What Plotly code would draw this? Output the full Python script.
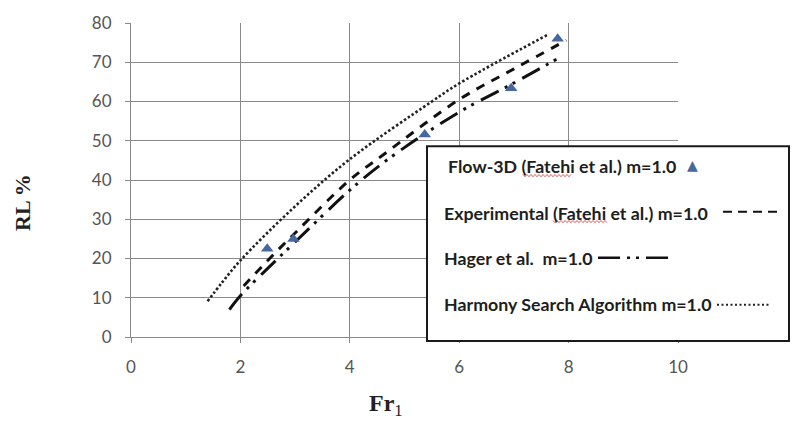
import plotly.graph_objects as go

# ---------------- data ----------------
x_ticks = [0, 2, 4, 6, 8, 10]
y_ticks = [0, 10, 20, 30, 40, 50, 60, 70, 80]

flow3d_x = [2.49, 2.97, 5.37, 6.95, 7.80]
flow3d_y = [22.5, 25.0, 51.6, 63.4, 76.0]

exp_x = [2.06, 2.5, 3.0, 4.0, 4.6, 6.0, 7.0, 7.96]
exp_y = [13.0, 19.5, 26.5, 40.0, 46.3, 60.5, 68.3, 75.6]

hager_x = [1.80, 2.0, 2.5, 3.0, 4.0, 4.67, 6.0, 6.93, 7.81]
hager_y = [7.0, 10.5, 17.5, 24.2, 37.4, 45.0, 57.3, 64.2, 71.0]

hs_x = [1.40, 1.66, 2.0, 2.97, 4.0, 5.5, 6.0, 7.63]
hs_y = [9.1, 13.8, 19.5, 32.9, 45.3, 60.0, 64.6, 77.1]

legend_labels = [
    "Flow-3D (Fatehi et al.) m=1.0",
    "Experimental (Fatehi et al.) m=1.0",
    "Hager et al.\u00a0 m=1.0",
    "Harmony Search Algorithm m=1.0",
]

# ---------------- styles ----------------
W, H = 797, 421
L, R, T, B = 131, 119, 16, 84
PW, PH = W - L - R, H - T - B
TRI_COLOR = "#46689e"
GRID = "#8a8a8a"
TICKFONT = dict(family="Lato", size=17, color="#555555")
LEGFONT = dict(family="Lato", size=17.8, color="#1e1e1e")

DASH_EXP = "9px,8px"
DASH_HAGER = "20px,7px,3px,6px,3px,8px"
DASH_HS = "2.5px,2.2px"


def px(xp):
    return (xp - L) / PW


def py(yp):
    return (H - B - yp) / PH


fig = go.Figure()

fig.add_trace(go.Scatter(x=hs_x, y=hs_y, mode="lines", line_shape="spline",
                         line=dict(color="#222222", width=2.6, dash=DASH_HS),
                         showlegend=False, hoverinfo="skip"))
fig.add_trace(go.Scatter(x=exp_x, y=exp_y, mode="lines", line_shape="spline",
                         line=dict(color="#111111", width=3, dash=DASH_EXP),
                         showlegend=False, hoverinfo="skip"))
fig.add_trace(go.Scatter(x=hager_x, y=hager_y, mode="lines", line_shape="spline",
                         line=dict(color="#111111", width=3, dash=DASH_HAGER),
                         showlegend=False, hoverinfo="skip"))
fig.add_trace(go.Scatter(x=flow3d_x, y=flow3d_y, mode="markers",
                         marker=dict(symbol="triangle-up", size=11, color=TRI_COLOR),
                         showlegend=False, hoverinfo="skip"))

shapes = []
# legend box
shapes.append(dict(type="rect", xref="paper", yref="paper", layer="above",
                   x0=px(427), x1=px(789), y0=py(341), y1=py(142),
                   fillcolor="white", line=dict(color="#1a1a1a", width=2)))
# legend line samples
shapes.append(dict(type="line", xref="paper", yref="paper", layer="above",
                   x0=px(723), x1=px(778), y0=py(209), y1=py(209),
                   line=dict(color="#111111", width=2, dash="9px,6px")))
shapes.append(dict(type="line", xref="paper", yref="paper", layer="above",
                   x0=px(598), x1=px(671), y0=py(256), y1=py(256),
                   line=dict(color="#111111", width=2.5, dash="22px,7px,3px,6px,3px,7px")))
shapes.append(dict(type="line", xref="paper", yref="paper", layer="above",
                   x0=px(717), x1=px(771), y0=py(304), y1=py(304),
                   line=dict(color="#222222", width=2, dash="2px,2.5px")))


def wavy(x0, x1, y):
    pts = []
    xx = x0
    k = 0
    while xx <= x1:
        yy = y + (1.2 if k % 2 else -1.2)
        pts.append((px(xx), py(yy)))
        xx += 2
        k += 1
    return "M " + " L ".join(f"{a:.5f},{b:.5f}" for a, b in pts)


shapes.append(dict(type="path", xref="paper", yref="paper", layer="above",
                   path=wavy(523, 571, 172), line=dict(color="#e06060", width=1)))
shapes.append(dict(type="path", xref="paper", yref="paper", layer="above",
                   path=wavy(553, 607, 219), line=dict(color="#e06060", width=1)))

annotations = []
leg_pos = [(446, 162), (442, 210), (442, 256), (442, 303)]
for lab, (lx, ly) in zip(legend_labels, leg_pos):
    annotations.append(dict(text="<b>" + lab + "</b>", xref="paper", yref="paper",
                            x=px(lx), y=py(ly),
                            xanchor="left", yanchor="middle", showarrow=False,
                            font=LEGFONT))
annotations.append(dict(text="▲", xref="paper", yref="paper", x=px(692), y=py(161),
                        xanchor="center", yanchor="middle", showarrow=False,
                        font=dict(family="DejaVu Sans", size=14, color=TRI_COLOR)))
# axis titles
annotations.append(dict(text="<b>RL %</b>", xref="paper", yref="paper", x=px(23), y=py(200),
                        xanchor="center", yanchor="middle", showarrow=False, textangle=-90,
                        font=dict(family="Liberation Serif", size=22, color="#222222")))
annotations.append(dict(text="<b>Fr</b><sub>1</sub>", xref="paper", yref="paper",
                        x=px(386), y=py(407), xanchor="center", yanchor="middle",
                        showarrow=False,
                        font=dict(family="Liberation Serif", size=24, color="#222222")))

fig.update_layout(
    width=W, height=H,
    margin=dict(l=L, r=R, t=T, b=B, pad=0),
    paper_bgcolor="white", plot_bgcolor="white",
    shapes=shapes, annotations=annotations,
    showlegend=False,
    xaxis=dict(range=[0, 10], tickvals=x_ticks, ticktext=[str(v) for v in x_ticks],
               showgrid=True, gridcolor=GRID, gridwidth=1,
               showline=True, linecolor=GRID, linewidth=1,
               ticks="outside", ticklen=5, tickcolor=GRID,
               tickfont=TICKFONT, ticklabelstandoff=10, zeroline=False,
               fixedrange=True),
    yaxis=dict(range=[0, 80], tickvals=y_ticks, ticktext=[str(v) for v in y_ticks],
               showgrid=True, gridcolor=GRID, gridwidth=1,
               showline=True, linecolor=GRID, linewidth=1,
               ticks="outside", ticklen=5, tickcolor=GRID,
               tickfont=TICKFONT, ticklabelstandoff=10, zeroline=False,
               fixedrange=True),
)

fig.write_html("out.html")
